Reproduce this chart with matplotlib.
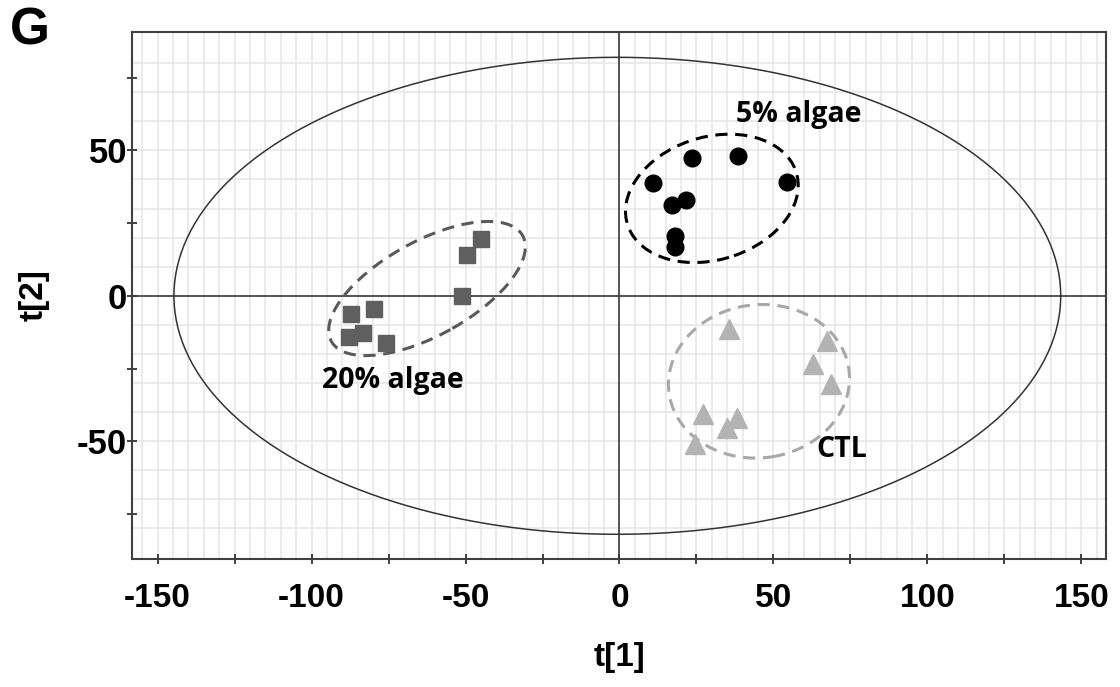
import matplotlib
matplotlib.use('Agg')
import matplotlib.pyplot as plt
from matplotlib.patches import Ellipse
import numpy as np

plt.rcParams['font.family'] = ['Liberation Sans', 'DejaVu Sans']

# 5% algae (black circles)
algae5_t1 = [11.0, 23.4, 38.4, 54.3, 16.9, 21.6, 18.0, 18.0]
algae5_t2 = [38.7, 47.3, 48.1, 39.3, 31.3, 33.0, 20.7, 16.9]
# 20% algae (dark grey squares)
algae20_t1 = [-45.1, -49.6, -51.2, -87.2, -79.6, -87.7, -83.2, -75.8]
algae20_t2 = [19.6, 13.9, 0.0, -6.3, -4.5, -14.3, -12.8, -16.3]
# CTL (light grey triangles)
ctl_t1 = [35.6, 67.3, 62.9, 68.7, 27.2, 38.3, 35.0, 24.5]
ctl_t2 = [-11.5, -15.7, -23.4, -30.2, -40.5, -42.0, -45.5, -50.9]

# Hotelling T2 ellipse semi-axes
t2_a, t2_b = 144.0, 82.0

fig = plt.figure(figsize=(11.2, 6.87), dpi=100)
ax = fig.add_axes([0.1179, 0.1863, 0.8696, 0.7671])

ax.set_xlim(-158.3, 158.0)
ax.set_ylim(-90.5, 90.7)

# grid: vertical every 5, horizontal every 10
for gx in np.arange(-155, 160, 5):
    ax.axvline(gx, color='#e8e8e8', lw=1.2, zorder=0)
for gy in np.arange(-80, 90, 10):
    ax.axhline(gy, color='#e8e8e8', lw=1.2, zorder=0)

ax.axvline(0, color='#3a3a3a', lw=1.2, zorder=1)
ax.axhline(0, color='#3a3a3a', lw=1.2, zorder=1)

th = np.linspace(0, 2 * np.pi, 400)
ax.plot(-0.7 + t2_a * np.cos(th), t2_b * np.sin(th), color='#333333', lw=1.1, zorder=2)

# group ellipses
dash = (0, (4, 2.5))
ax.add_patch(Ellipse((30.0, 33.5), 57.7, 42.0, angle=20, fill=False,
                     edgecolor='black', lw=2.2, ls=dash, zorder=3))
ax.add_patch(Ellipse((-62.5, 2.5), 72, 32, angle=31, fill=False,
                     edgecolor='#5a5a5a', lw=2.2, ls=dash, zorder=3))
ax.add_patch(Ellipse((45.3, -29.4), 59, 52.6, angle=10, fill=False,
                     edgecolor='#a8a8a8', lw=2.2, ls=dash, zorder=3))

ax.plot(algae5_t1, algae5_t2, 'o', color='black', ms=12, zorder=4)
ax.plot(algae20_t1, algae20_t2, 's', color='#5f5f5f', ms=11, zorder=4)
ax.plot(ctl_t1, ctl_t2, '^', color='#b3b3b3', ms=14, zorder=4)

lab_font = ['Open Sans', 'DejaVu Sans']
ax.text(58.3, 62.2, '5% algae', family=lab_font, fontweight='bold', fontsize=20.5,
        ha='center', va='center')
ax.text(-73.5, -29.2, '20% algae', family=lab_font, fontweight='bold', fontsize=20.5,
        ha='center', va='center')
ax.text(72.2, -52.9, 'CTL', family=lab_font, fontweight='bold', fontsize=20.5,
        ha='center', va='center')

ax.set_xticks(np.arange(-150, 151, 25))
ax.set_xticklabels([str(v) if v % 50 == 0 else '' for v in range(-150, 151, 25)])
ax.set_yticks(np.arange(-75, 76, 25))
ax.set_yticklabels([str(v) if v % 50 == 0 else '' for v in range(-75, 76, 25)])
ax.tick_params(direction='inout', length=7, width=1.3, color='#333333',
               labelsize=24)
ax.tick_params(axis='x', pad=14)
ax.tick_params(axis='y', labelsize=25, pad=0)
for lbl in ax.get_xticklabels() + ax.get_yticklabels():
    lbl.set_fontweight('bold')

for sp in ax.spines.values():
    sp.set_color('#404040')
    sp.set_linewidth(1.5)

ax.set_xlabel('t[1]', fontsize=24, fontweight='bold', labelpad=20)
ax.set_ylabel('t[2]', fontsize=24, fontweight='bold', labelpad=20)

fig.text(0.027, 0.955, 'G', fontsize=37, fontweight='bold', ha='center', va='center')

fig.savefig('out.png', dpi=100)
